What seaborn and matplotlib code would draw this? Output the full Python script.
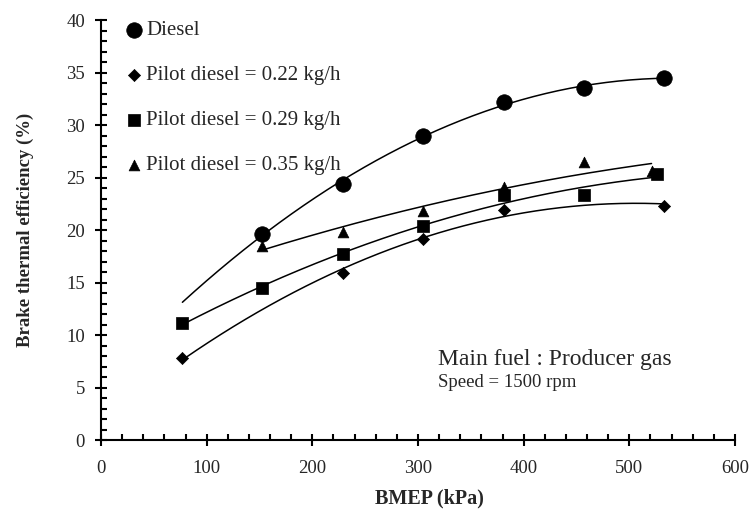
import numpy as np
import pandas as pd
import matplotlib
matplotlib.use("Agg")
import matplotlib.pyplot as plt
import seaborn as sns
from matplotlib.ticker import MultipleLocator

# ---- data ----
diesel_x = [152, 229, 305, 381, 457, 533]
diesel_y = [19.6, 24.4, 29.0, 32.2, 33.5, 34.5]

p022_x = [77, 229, 305, 381, 533]
p022_y = [7.8, 15.9, 19.1, 21.9, 22.3]

p029_x = [77, 152, 229, 305, 381, 457, 526]
p029_y = [11.1, 14.5, 17.7, 20.4, 23.3, 23.3, 25.3]

p035_x = [152, 229, 305, 381, 457, 521]
p035_y = [18.5, 19.8, 21.8, 24.1, 26.5, 25.6]

labels = ["Diesel", "Pilot diesel = 0.22 kg/h",
          "Pilot diesel = 0.29 kg/h", "Pilot diesel = 0.35 kg/h"]
# x-span of each 2nd-order trend line (as drawn in the reference)
trend_span = [(77, 533), (77, 533), (77, 526), (152, 521)]

x_ticks = [0, 100, 200, 300, 400, 500, 600]
y_ticks = [0, 5, 10, 15, 20, 25, 30, 35, 40]

sns.set_style("ticks")
plt.rcParams["font.family"] = ["Liberation Serif", "DejaVu Serif"]

fig = plt.figure(figsize=(7.5, 5.15), dpi=100)
ax = fig.add_axes([0.1347, 0.1456, 0.8453, 0.8155])

series = [(diesel_x, diesel_y), (p022_x, p022_y), (p029_x, p029_y), (p035_x, p035_y)]
markers = ["o", "D", "s", "^"]
msizes = [125, 38, 80, 60]

# trend lines
for (xs, ys), span in zip(series, trend_span):
    coef = np.polyfit(xs, ys, 2)
    xx = np.linspace(span[0], span[1], 200)
    df_fit = pd.DataFrame({"x": xx, "y": np.polyval(coef, xx)})
    sns.lineplot(data=df_fit, x="x", y="y", ax=ax, color="black", lw=1.1,
                 legend=False)

# markers
for (xs, ys), lab, mk, ms in zip(series, labels, markers, msizes):
    df = pd.DataFrame({"x": xs, "y": ys})
    sns.scatterplot(data=df, x="x", y="y", ax=ax, marker=mk, s=ms,
                    color="black", edgecolor="black", linewidth=0.5,
                    label=lab, zorder=3)

ax.set_xlim(0, 600)
ax.set_ylim(0, 40)
ax.set_xticks(x_ticks)
ax.set_yticks(y_ticks)
ax.xaxis.set_minor_locator(MultipleLocator(20))
ax.yaxis.set_minor_locator(MultipleLocator(1))
ax.tick_params(which="major", direction="inout", length=9, width=1.5,
               color="black", labelsize=13.5, pad=7)
ax.tick_params(axis="x", which="major", pad=10)
ax.tick_params(which="minor", direction="in", length=4, width=1.5,
               color="black")
for side in ["top", "right"]:
    ax.spines[side].set_visible(False)
for side in ["left", "bottom"]:
    ax.spines[side].set_linewidth(1.5)
    ax.spines[side].set_color("black")

ax.set_xlabel("BMEP (kPa)", fontsize=14.5, fontweight="bold")
ax.xaxis.set_label_coords(0.518, -0.115)
ax.set_ylabel("Brake thermal efficiency (%)", fontsize=13.5,
              fontweight="bold", labelpad=23)

leg = ax.legend(loc="upper left", bbox_to_anchor=(0.037, 1.003), frameon=False,
                fontsize=15, labelspacing=1.22, handlelength=0.7,
                handletextpad=0.25, borderpad=0.1, borderaxespad=0)

ax.text(0.532, 0.192, "Main fuel : Producer gas", transform=ax.transAxes,
        fontsize=17, va="center", ha="left")
ax.text(0.532, 0.136, "Speed = 1500 rpm", transform=ax.transAxes,
        fontsize=13.5, va="center", ha="left")

fig.savefig("out.png", dpi=100)
